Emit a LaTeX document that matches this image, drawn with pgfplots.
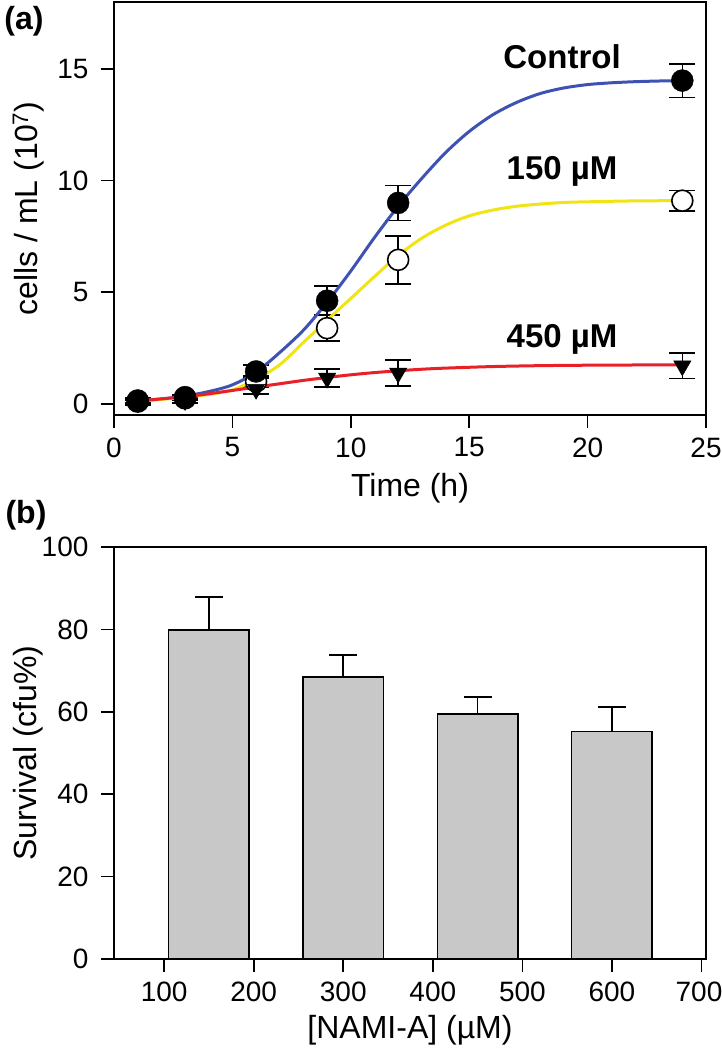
\documentclass[border=0pt]{standalone}
\usepackage{pgfplots}
\pgfplotsset{compat=1.18}
\usepackage{fontspec}
\setmainfont{Liberation Sans}
\definecolor{blueC}{RGB}{62,82,180}
\definecolor{yellowC}{RGB}{240,228,20}
\definecolor{redC}{RGB}{232,32,40}
\definecolor{barGray}{RGB}{200,200,200}
\begin{document}
\begin{tikzpicture}
\pgfplotsset{
  common/.style={
    scale only axis, width=592pt, anchor=south west,
    tick align=outside, tick pos=left, major tick length=13pt,
    axis line style={line width=1.6pt},
    every tick/.style={black, line width=1.6pt},
    /pgf/number format/assume math mode=true,
    tick label style={font=\fontsize{28}{28}\selectfont},
    xticklabel style={yshift=-6pt},
    yticklabel style={xshift=-9pt},
    every axis y label/.style={at={(axis description cs:-0.145,0.5)}, rotate=90, anchor=center,
       font=\fontsize{32}{32}\selectfont},
  },
}
% ---------------- panel (a) ----------------
\begin{axis}[common, height=413pt, at={(114pt,635pt)},
  xmin=0, xmax=25, ymin=-0.5, ymax=18,
  xtick={0,5,10,15,20,25}, ytick={0,5,10,15},
  xlabel={Time (h)}, ylabel={cells / mL (10\textsuperscript{7})},
  every axis x label/.style={at={(axis description cs:0.5,-0.177)}, anchor=center,
     font=\fontsize{32}{32}\selectfont},
  clip=false]
% 150 uM
\addplot[only marks, mark=*, mark size=10.5pt, draw=black, fill=white, line width=1.6pt,
  error bars/.cd, y dir=both, y explicit,
  error bar style={line width=1.6pt, black},
  error mark options={rotate=90, mark size=13pt, line width=1.6pt, black}]
  coordinates {(1,0.1) +- (0,0.1) (3,0.25) +- (0,0.1) (6,1.0) +- (0,0.25)
               (9,3.39) +- (0,0.58) (12,6.45) +- (0,1.07) (24,9.1) +- (0,0.45)};
% Control
\addplot[only marks, mark=*, mark size=11pt, black,
  error bars/.cd, y dir=both, y explicit,
  error bar style={line width=1.6pt, black},
  error mark options={rotate=90, mark size=13pt, line width=1.6pt, black}]
  coordinates {(1,0.15) +- (0,0.1) (3,0.3) +- (0,0.1) (6,1.45) +- (0,0.3)
               (9,4.62) +- (0,0.67) (12,9.0) +- (0,0.78) (24,14.48) +- (0,0.75)};
% 450 uM
\addplot[only marks, mark=triangle*, mark size=10pt, black, mark options={rotate=180},
  error bars/.cd, y dir=both, y explicit,
  error bar style={line width=1.6pt, black},
  error mark options={rotate=90, mark size=13pt, line width=1.6pt, black}]
  coordinates {(1,0.05) +- (0,0.1) (3,0.15) +- (0,0.1) (6,0.65) +- (0,0.2)
               (9,1.15) +- (0,0.4) (12,1.38) +- (0,0.58) (24,1.7) +- (0,0.57)};
% fitted curves
\addplot[blueC, line width=3pt, smooth] coordinates {
 (1,0.15) (2,0.22) (3,0.35) (4,0.55) (5,0.85) (6,1.42) (7,2.3) (8,3.3) (9,4.55)
 (10,5.95) (11,7.45) (12,8.85) (13,10.1) (14,11.25) (15,12.2) (16,12.95)
 (17,13.5) (18,13.9) (19,14.15) (20,14.3) (21,14.38) (22,14.43) (23,14.46) (24,14.48)};
\addplot[yellowC, line width=3pt, smooth] coordinates {
 (1,0.12) (2,0.2) (3,0.3) (4,0.42) (5,0.62) (6,1.1) (7,1.75) (8,2.75) (9,3.75)
 (10,4.72) (11,5.7) (12,6.65) (13,7.42) (14,8.0) (15,8.42) (16,8.68)
 (17,8.85) (18,8.95) (19,9.02) (20,9.05) (22,9.09) (24,9.1)};
\addplot[redC, line width=3pt, smooth] coordinates {
 (1,0.12) (2,0.22) (3,0.32) (4,0.45) (5,0.6) (6,0.75) (7,0.9) (8,1.05) (9,1.18)
 (10,1.3) (11,1.4) (12,1.48) (13,1.55) (14,1.6) (16,1.67) (18,1.71) (20,1.73) (22,1.74) (24,1.75)};
\node[font=\bfseries\fontsize{33}{33}\selectfont] at (axis cs:18.92,15.54) {Control};
\node[font=\bfseries\fontsize{33}{33}\selectfont] at (axis cs:18.92,10.43) {150 µM};
\node[font=\bfseries\fontsize{33}{33}\selectfont] at (axis cs:18.92,2.87) {450 µM};
\end{axis}
% ---------------- panel (b) ----------------
\begin{axis}[common, height=412pt, at={(114pt,91pt)},
  xmin=44, xmax=705, ymin=0, ymax=100,
  xtick={100,200,300,400,500,600,700}, ytick={0,20,40,60,80,100},
  xticklabels={100,200,300,400,500,600,{700\kern5pt}},
  xlabel={[NAMI-A] (µM)}, ylabel={Survival (cfu\%)},
  every axis x label/.style={at={(axis description cs:0.5,-0.172)}, anchor=center,
     font=\fontsize{32}{32}\selectfont},
  clip=false]
\addplot[ybar, bar width=90, fill=barGray, draw=black, line width=1.6pt,
  error bars/.cd, y dir=plus, y explicit,
  error bar style={line width=1.6pt, black},
  error mark options={rotate=90, mark size=14pt, line width=1.6pt, black}]
  coordinates {(150,79.8) +- (0,8.0) (300,68.4) +- (0,5.4) (450,59.5) +- (0,4.1) (600,55.2) +- (0,5.9)};
\end{axis}
\node[font=\bfseries\fontsize{32}{32}\selectfont] at (24pt,1029pt) {(a)};
\node[font=\bfseries\fontsize{32}{32}\selectfont] at (26pt,535pt) {(b)};
\pgfresetboundingbox
\path[use as bounding box] (0,0) rectangle (722pt,1050pt);
\end{tikzpicture}
\end{document}
